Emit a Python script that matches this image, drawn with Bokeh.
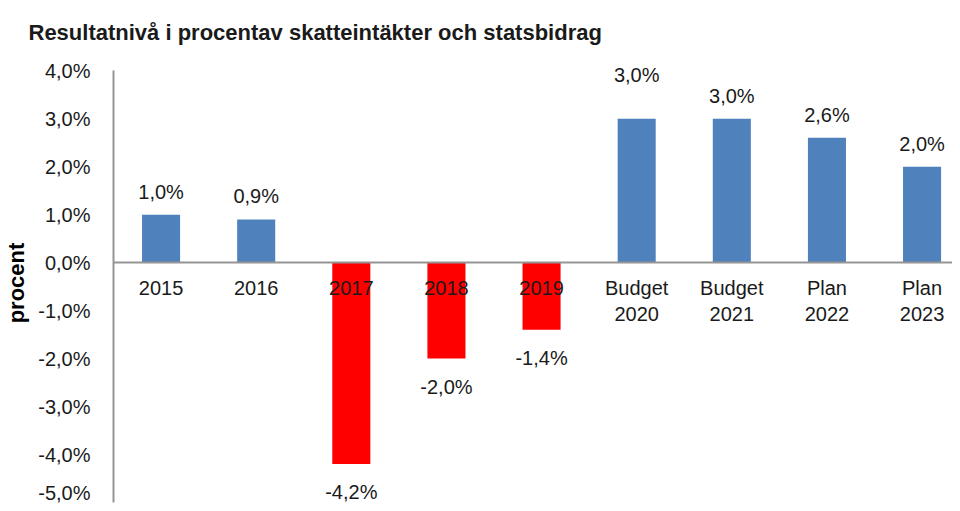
from bokeh.plotting import figure
from bokeh.models import ColumnDataSource, FixedTicker, CustomJSTickFormatter, Range1d, LabelSet, Title
from bokeh.core.properties import value
from bokeh.embed import file_html
from bokeh.resources import INLINE

# ---- data ----
categories = ["2015", "2016", "2017", "2018", "2019",
              "Budget\n2020", "Budget\n2021", "Plan\n2022", "Plan\n2023"]
values = [1.0, 0.9, -4.2, -2.0, -1.4, 3.0, 3.0, 2.6, 2.0]
y_ticks = [-5, -4, -3, -2, -1, 0, 1, 2, 3, 4]
title_text = "Resultatnivå i procentav skatteintäkter och statsbidrag"
y_label = "procent"

# ---- styles ----
BLUE = "#4F81BD"
RED = "#FF0000"
FONT = "Liberation Sans"
TXT = "#1a1a1a"
label_lift = [0, 0, 0, 0, 0, 21, 0, 0, 0]  # extra upward shift of a value label (px)

xs = list(range(len(categories)))
colors = [BLUE if v >= 0 else RED for v in values]
texts = [("%.1f" % v).replace(".", ",") + "%" for v in values]
y_off = []
baselines = []
for v, lift in zip(values, label_lift):
    if v >= 0:
        y_off.append(12 + lift)
        baselines.append("bottom")
    else:
        y_off.append(-17)
        baselines.append("top")

src = ColumnDataSource(dict(x=xs, top=values, color=colors, text=texts,
                            yoff=y_off, base=baselines))

p = figure(width=952, height=503, output_backend="svg", toolbar_location=None,
           x_range=Range1d(-0.5, 8.32), y_range=Range1d(-5, 4.15),
           min_border_left=113, min_border_right=0, min_border_top=63,
           min_border_bottom=1)

p.vbar(x="x", top="top", bottom=0, width=0.4, color="color", line_color=None, source=src)

labels = LabelSet(x="x", y="top", text="text", source=src, y_offset="yoff",
                  text_align="center", text_baseline="base",
                  text_font=value(FONT), text_font_size="20px", text_color=TXT)
p.add_layout(labels)

# axes
p.xaxis.fixed_location = 0
p.xaxis.ticker = FixedTicker(ticks=xs)
p.xaxis.major_label_overrides = {i: c for i, c in zip(xs, categories)}
p.xaxis.major_tick_line_color = None
p.xaxis.minor_tick_line_color = None
p.xaxis.axis_line_color = "#959595"
p.xaxis.axis_line_width = 2
p.xaxis.major_label_text_font = FONT
p.xaxis.major_label_text_font_size = "20px"
p.xaxis.major_label_text_color = TXT
p.xaxis.major_label_standoff = 8

p.yaxis.ticker = FixedTicker(ticks=y_ticks)
p.yaxis.bounds = (-5, 4)
p.yaxis.formatter = CustomJSTickFormatter(code="return tick.toFixed(1).replace('.', ',') + '%';")
p.yaxis.major_tick_line_color = None
p.yaxis.minor_tick_line_color = None
p.yaxis.axis_line_color = "#959595"
p.yaxis.axis_line_width = 2
p.yaxis.major_label_text_font = FONT
p.yaxis.major_label_text_font_size = "20px"
p.yaxis.major_label_text_color = TXT
p.yaxis.major_label_standoff = 17
p.yaxis.axis_label = y_label
p.yaxis.axis_label_text_font = FONT
p.yaxis.axis_label_text_font_size = "22px"
p.yaxis.axis_label_text_font_style = "bold"
p.yaxis.axis_label_text_color = "#000000"
p.yaxis.axis_label_standoff = 6

p.xgrid.grid_line_color = None
p.ygrid.grid_line_color = None
p.outline_line_color = None

p.title = Title(text=title_text, text_font=FONT, text_font_size="22px",
                text_font_style="bold", text_color=TXT, offset=-85, standoff=34,
                vertical_align="top")

open("out.html", "w").write(file_html(p, INLINE))
